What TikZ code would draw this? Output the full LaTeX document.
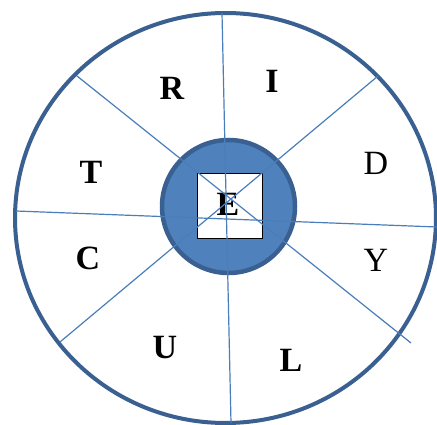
\documentclass[tikz,border=0pt]{standalone}
\usepackage{fontspec}
\setmainfont{Liberation Serif}
\begin{document}
\begin{tikzpicture}[x=1pt,y=-1pt,
  ring/.style={draw=ringblue,line width=4pt},
  hub/.style={draw=ringblue,line width=4.5pt,fill=hubblue},
  spoke/.style={draw=spokeblue,line width=1.2pt},
  letter/.style={font=\fontsize{34}{38}\selectfont\bfseries,inner sep=0pt},
  thinletter/.style={font=\fontsize{34}{38}\selectfont,inner sep=0pt}]
\definecolor{ringblue}{HTML}{3A6092}
\definecolor{hubblue}{HTML}{4F81BD}
\definecolor{spokeblue}{HTML}{4A7EBB}
\useasboundingbox (0,0) rectangle (437,425);
\fill[white] (0,0) rectangle (437,425);
% outer ring
\draw[ring] (225.5,218) ellipse [x radius=210.5, y radius=205];
% hub
\draw[hub] (228.5,206.5) circle [radius=66.5];
\node[draw=black,line width=1pt,fill=white,minimum width=65pt,minimum height=65pt,inner sep=0pt] (sq) at (229.5,206.5) {};
\node[letter] (E) at (228,204) {E};
% spokes
\coordinate (a1) at (222,13);
\coordinate (a2) at (231,423);
\coordinate (b1) at (77,76);
\coordinate (b2) at (411,343);
\coordinate (c1) at (378,76);
\coordinate (c2) at (60,342);
\coordinate (d1) at (16,211);
\coordinate (d2) at (437,227);
\draw[spoke] (a1) -- (a2);
\draw[spoke] (b1) -- (b2);
\draw[spoke] (c1) -- (c2);
\draw[spoke] (d1) -- (d2);
% letters
\node[letter] (R) at (172,88) {R};
\node[letter] (I) at (272,81) {I};
\node[thinletter] (D) at (376,163) {D};
\node[thinletter] (Y) at (376,260) {Y};
\node[letter] (L) at (291,360) {L};
\node[letter] (U) at (165,348) {U};
\node[letter] (C) at (88,258) {C};
\node[letter] (T) at (91,172) {T};
\end{tikzpicture}
\end{document}
